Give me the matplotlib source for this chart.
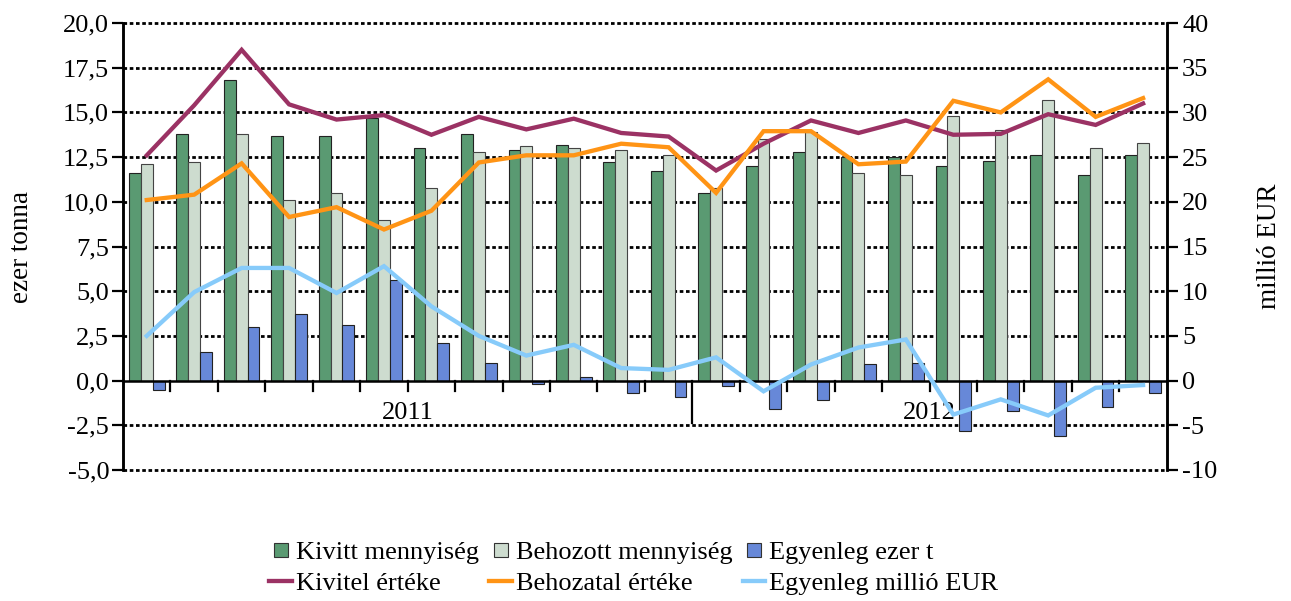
import matplotlib
matplotlib.use("Agg")
import matplotlib.pyplot as plt
import numpy as np
from matplotlib.lines import Line2D

plt.rcParams['font.family'] = ['Liberation Serif', 'DejaVu Serif']

# 2011 jan - 2012 okt
years = ['2011', '2012']
months_per_year = [12, 10]

# ezer tonna (left axis)
kivitt = [11.6, 13.8, 16.8, 13.7, 13.7, 14.7, 13.0, 13.8, 12.9, 13.2, 12.2,
          11.7, 10.5, 12.0, 12.8, 12.5, 12.5, 12.0, 12.3, 12.6, 11.5, 12.6]
behozott = [12.1, 12.2, 13.8, 10.1, 10.5, 9.0, 10.8, 12.8, 13.1, 13.0, 12.9,
            12.6, 10.8, 13.5, 13.9, 11.6, 11.5, 14.8, 14.0, 15.7, 13.0, 13.3]
egyenleg_t = [-0.5, 1.6, 3.0, 3.7, 3.1, 5.6, 2.1, 1.0, -0.2, 0.2, -0.7,
              -0.9, -0.3, -1.6, -1.1, 0.9, 1.0, -2.8, -1.7, -3.1, -1.5, -0.7]

# millió EUR (right axis)
kivitel = [25.2, 30.8, 37.0, 30.9, 29.2, 29.7, 27.5, 29.5, 28.1, 29.3, 27.7,
           27.3, 23.5, 26.5, 29.1, 27.7, 29.1, 27.5, 27.6, 29.8, 28.6, 31.0]
behozatal = [20.2, 20.8, 24.3, 18.3, 19.4, 16.9, 19.0, 24.4, 25.2, 25.2, 26.5,
             26.1, 21.0, 27.9, 27.9, 24.2, 24.5, 31.3, 30.0, 33.7, 29.5, 31.6]
egyenleg_eur = [5.0, 9.9, 12.6, 12.6, 9.8, 12.8, 8.3, 5.0, 2.8, 4.0, 1.4,
                1.2, 2.6, -1.2, 1.8, 3.7, 4.6, -3.8, -2.1, -3.9, -0.8, -0.5]

left_ticks = [-5, -2.5, 0, 2.5, 5, 7.5, 10, 12.5, 15, 17.5, 20]
left_labels = ['-5,0', '-2,5', '0,0', '2,5', '5,0', '7,5', '10,0', '12,5',
               '15,0', '17,5', '20,0']
right_ticks = [-10, -5, 0, 5, 10, 15, 20, 25, 30, 35, 40]

c_kivitt = '#5a9a72'
c_behozott = '#cddccf'
c_egy_t = '#6788d8'
c_kivitel = '#9b3264'
c_behozatal = '#ff9415'
c_egy_eur = '#87cbfa'

FS = 19
LFS = 19

fig = plt.figure(figsize=(12.91, 6.01), dpi=100)
ax = fig.add_axes([0.0953, 0.218, 0.8085, 0.7437])
ax2 = ax.twinx()

x = np.arange(len(kivitt))
w = 0.25
ax.bar(x - w, kivitt, w, color=c_kivitt, edgecolor='#222222', lw=0.8, zorder=3)
ax.bar(x, behozott, w, color=c_behozott, edgecolor='#444444', lw=0.8, zorder=3)
ax.bar(x + w, egyenleg_t, w, color=c_egy_t, edgecolor='#222222', lw=0.8, zorder=3)

ax2.plot(x, kivitel, color=c_kivitel, lw=3.1, solid_joinstyle='miter')
ax2.plot(x, behozatal, color=c_behozatal, lw=3.1, solid_joinstyle='miter')
ax2.plot(x, egyenleg_eur, color=c_egy_eur, lw=3.1, solid_joinstyle='miter')

ax.set_xlim(-0.5, len(x) - 0.5)
ax.set_ylim(-5, 20)
ax2.set_ylim(-10, 40)

# dotted grid
for t in left_ticks:
    if t != 0:
        ax.axhline(t, color='black', lw=2.0, ls=(0, (1.3, 0.95)), zorder=1,
                   clip_on=False)
ax.axhline(0, color='black', lw=1.8, zorder=4)

# month separator ticks, long one between years
n = len(x)
for k in range(1, n):
    ln = 0.024
    if k == months_per_year[0]:
        ln = 0.094
    ax.plot([k - 0.5, k - 0.5], [0, -ln * 25], color='black', lw=1.6,
            zorder=4, clip_on=False)

start = 0
for yr, m in zip(years, months_per_year):
    ax.text(start + m / 2 - 0.5, -1.8, yr, ha='center', va='center',
            fontsize=FS, zorder=5)
    start += m

ax.set_xticks([])
ax.set_yticks(left_ticks)
ax.set_yticklabels(left_labels, fontsize=FS)
ax2.set_yticks(right_ticks)
ax2.set_yticklabels([str(t) for t in right_ticks], fontsize=FS)
ax.tick_params(axis='y', direction='out', length=8, width=1.6, pad=2)
ax2.tick_params(axis='y', direction='out', length=8, width=1.6, pad=3)

for a in (ax, ax2):
    a.spines['top'].set_visible(False)
    a.spines['bottom'].set_visible(False)
    a.spines['left'].set_linewidth(1.8)
    a.spines['right'].set_linewidth(1.8)

ax.set_ylabel('ezer tonna', fontsize=FS + 0.5)
ax2.set_ylabel('millió EUR', fontsize=FS + 0.5, rotation=90)
ax.yaxis.set_label_coords(-0.085, 0.5)
ax2.yaxis.set_label_coords(1.086, 0.5)

handles = [
    Line2D([], [], marker='s', ms=10, mfc=c_kivitt, mec='#333333', mew=0.8, ls='none'),
    Line2D([], [], color=c_kivitel, lw=3.1),
    Line2D([], [], marker='s', ms=10, mfc=c_behozott, mec='#333333', mew=0.8, ls='none'),
    Line2D([], [], color=c_behozatal, lw=3.1),
    Line2D([], [], marker='s', ms=10, mfc=c_egy_t, mec='#333333', mew=0.8, ls='none'),
    Line2D([], [], color=c_egy_eur, lw=3.1),
]
labels = ['Kivitt mennyiség', 'Kivitel értéke', 'Behozott mennyiség',
          'Behozatal értéke', 'Egyenleg ezer t', 'Egyenleg millió EUR']
fig.legend(handles, labels, ncol=3, loc='center', bbox_to_anchor=(0.491, 0.055),
           frameon=False, fontsize=LFS, handlelength=0.85, handletextpad=0.15,
           columnspacing=0.4, labelspacing=0.3)

fig.savefig('out.png', dpi=100)
